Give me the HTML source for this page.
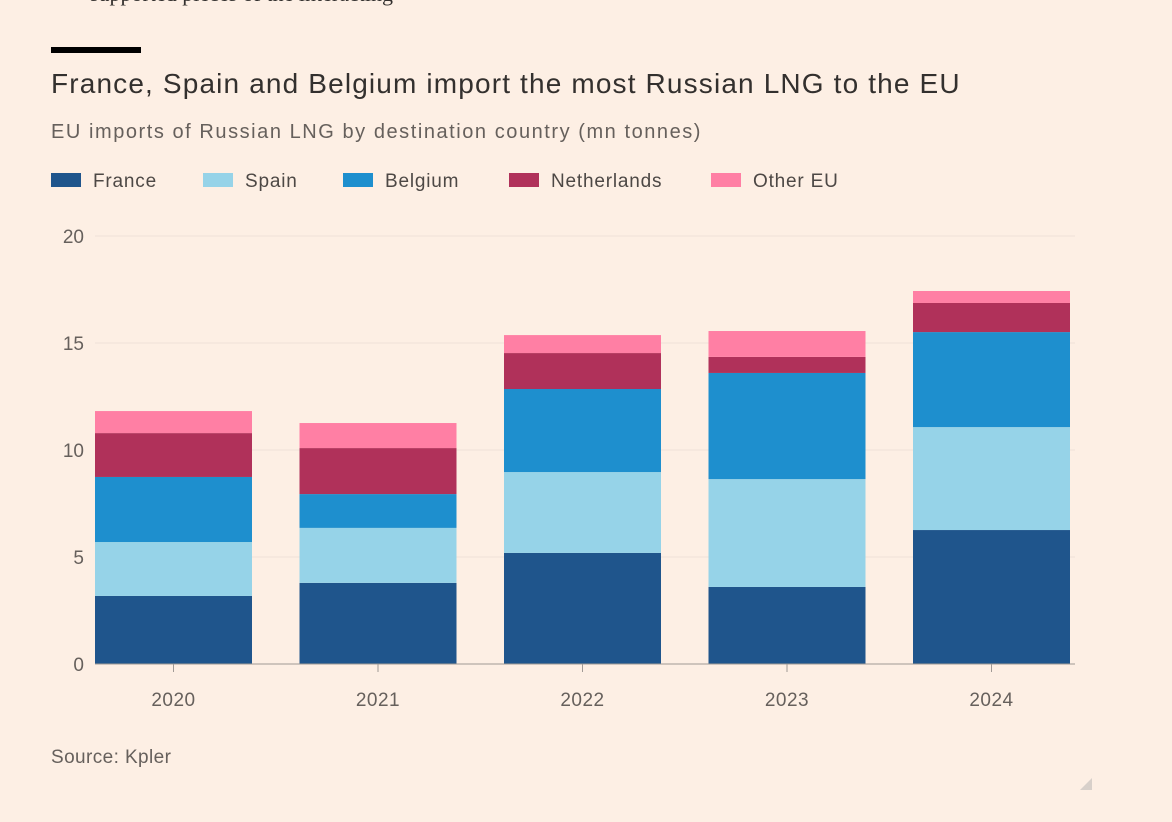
<!DOCTYPE html>
<html><head><meta charset="utf-8"><style>
body{margin:0;background:#fdefe4;font-family:"Liberation Sans",sans-serif;}
#wrap{position:relative;width:1172px;height:822px;overflow:hidden;background:#fdefe4;}
</style></head><body>
<div id="wrap">
<div style="position:absolute;left:90px;top:-19px;font-family:'Liberation Serif',serif;font-size:22px;color:#33302e;">supported pieces of the interacting</div>
<div style="position:absolute;left:51px;top:47px;width:90px;height:6px;background:#000;"></div>
<div style="position:absolute;left:51px;top:68px;font-size:28px;letter-spacing:1.15px;color:#33302e;">France, Spain and Belgium import the most Russian LNG to the EU</div>
<div style="position:absolute;left:51px;top:121px;font-size:20px;letter-spacing:1.55px;color:#66605c;">EU imports of Russian LNG by destination country (mn tonnes)</div>
<svg id="c" width="1172" height="822" style="position:absolute;left:0;top:0"></svg>
<div style="position:absolute;left:51px;top:747px;font-size:19px;letter-spacing:0.4px;color:#66605c;">Source: Kpler</div>
</div>
<script>
const categories=["2020","2021","2022","2023","2024"];
const seriesNames=["France","Spain","Belgium","Netherlands","Other EU"];
const france=[3.18,3.79,5.19,3.60,6.26];
const spain=[2.52,2.57,3.78,5.04,4.81];
const belgium=[3.04,1.58,3.88,4.96,4.44];
const netherlands=[2.05,2.15,1.68,0.75,1.36];
const otherEU=[1.03,1.17,0.84,1.21,0.56];
const yTicks=[0,5,10,15,20];
const colors=["#1f558c","#96d3e8","#1e8fce","#b0315a","#ff7fa4"];
const series=[france,spain,belgium,netherlands,otherEU];
const svg=document.getElementById('c');const NS="http://www.w3.org/2000/svg";
function mk(t,a){const e=document.createElementNS(NS,t);for(const k in a)e.setAttribute(k,a[k]);svg.appendChild(e);return e;}
const y0=664,y1=236,ymax=20;
const y=v=>y0-(y0-y1)*v/ymax;
const bw=157,step=204.5,x0=95;
const x=i=>x0+i*step;
yTicks.forEach(t=>{
 if(t>0){const g=mk('line',{x1:95,x2:1075,y1:y(t),y2:y(t),stroke:'#efe2d7','stroke-width':1});
 
 }
 const l=mk('text',{x:84,y:y(t)+7,'text-anchor':'end','font-size':19,fill:'#66605c','font-family':'Liberation Sans'});
 l.textContent=t;
 
 
});
categories.forEach((c,i)=>{
 let acc=0;
 series.forEach((s,j)=>{
  const r=mk('rect',{x:x(i),y:y(acc+s[i]),width:bw,height:y(acc)-y(acc+s[i]),fill:colors[j]});
  
  
  acc+=s[i];
 });
 const tk=mk('line',{x1:x(i)+bw/2,x2:x(i)+bw/2,y1:y0,y2:y0+8,stroke:'#a09a95'});
 
 
 const t=mk('text',{x:x(i)+bw/2,y:706,'text-anchor':'middle','font-size':19,'letter-spacing':0.5,fill:'#66605c','font-family':'Liberation Sans'});
 t.textContent=c;
 
 
});
const ax=mk('line',{x1:95,x2:1075,y1:y0,y2:y0,stroke:'#a09a95'});


const lx=[51,203,343,509,711];
seriesNames.forEach((n,j)=>{
 const r=mk('rect',{x:lx[j],y:173,width:30,height:14,fill:colors[j]});
 
 
 const t=mk('text',{x:lx[j]+42,y:187,'font-size':19,'letter-spacing':0.8,fill:'#4d4845','font-family':'Liberation Sans'});
 t.textContent=n;
 
 
});
const rs=mk('path',{d:'M1080 790 L1092 778 L1092 790 Z',fill:'#d8d0ca'});


</script>
</body></html>
